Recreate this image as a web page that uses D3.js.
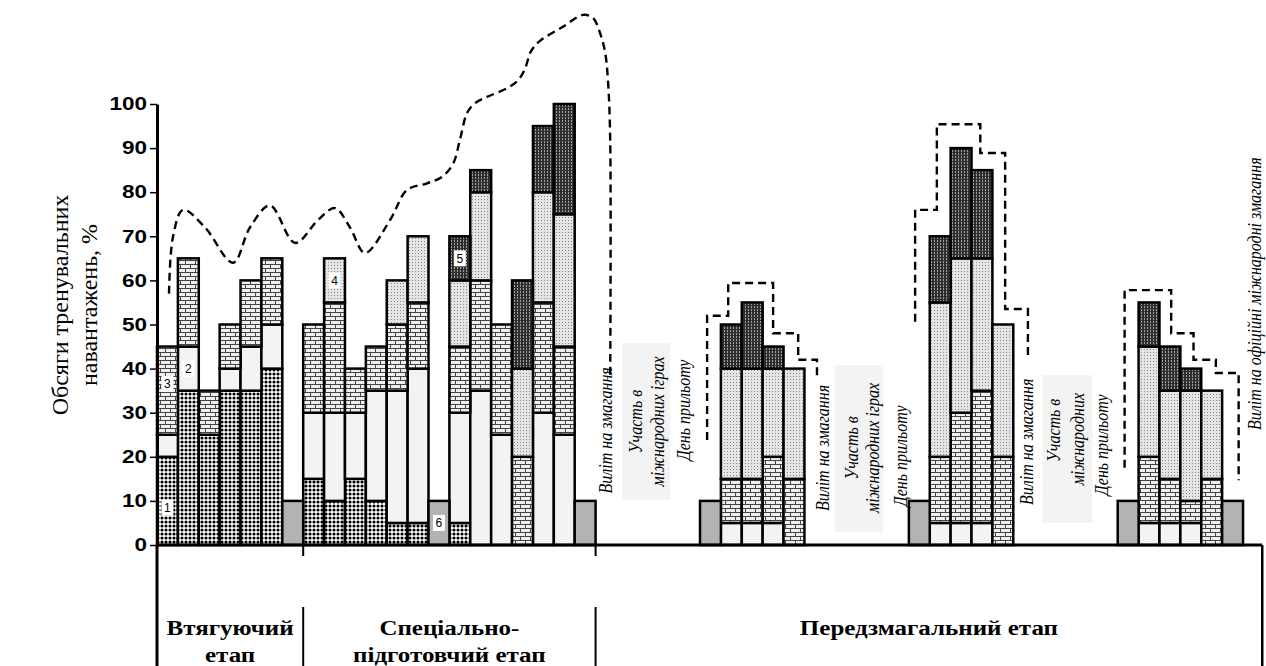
<!DOCTYPE html>
<html>
<head>
<meta charset="utf-8">
<script src="https://cdn.jsdelivr.net/npm/d3@7"></script>
<style>
body { margin: 0; background: #fff; }
svg { display: block; }
.serif { font-family: "Liberation Serif", "Times New Roman", Tinos, "DejaVu Serif", "Noto Serif", serif; }
</style>
</head>
<body>
<script>
// slots that hold a training bar, and the five load components stacked in each
var barSlots = [0,1,2,3,4,5, 7,8,9,10,11,12, 14,15,16,17,18,19, 27,28,29,30, 37,38,39,40, 47,48,49,50];
var part1 = [20,35,25,35,35,40, 15,10,15,10,5,5, 5,0,0,0,0,0, 0,0,0,0, 0,0,0,0, 0,0,0,0];
var part2 = [5,10,0,5,10,10, 15,20,15,25,30,35, 25,35,25,0,30,25, 5,5,5,0, 5,5,5,0, 5,5,5,0];
var part3 = [20,20,10,10,15,15, 20,25,10,10,15,15, 15,25,25,20,25,20, 10,10,15,15, 15,25,30,20, 15,10,5,15];
var part4 = [0,0,0,0,0,0, 0,10,0,0,10,15, 15,20,0,20,25,30, 25,25,20,25, 35,35,30,30, 25,20,25,20];
var part5 = [0,0,0,0,0,0, 0,0,0,0,0,0, 10,5,0,20,15,25, 10,15,5,0, 15,25,20,0, 10,10,5,0];

// rest days (component 6)
var restSlots = [6,13,20,26,36,46,51];
var restValues = [10,10,10,10,10,10,10];

var nSlots = 52;
var yTicks = [0,10,20,30,40,50,60,70,80,90,100];

// dashed trend curve over the first two stages (slot position, value)
var trendX = [0.575,0.77,1.25,2.30,3.64,4.45,5.41,6.61,7.71,8.52,9.24,9.96,11.16,11.97,12.93,13.65,14.18,14.51,14.85,15.23,15.80,16.76,17.29,17.62,17.91,18.34,19.44,20.40,20.88,21.22,21.46,21.60,21.70,21.70];
var trendY = [57,70,76,72,64,72,77,68.5,73.7,76.4,72,66.2,73.7,80.5,82,83.5,86.5,92,98,100.2,101.6,103.6,105.4,108,112,114.3,117.5,120.2,119.5,116,111.6,104.8,91.8,38];

// dashed step outlines over the pre-competition micro-cycles
var stepAX = [26.34,26.34,27.35,27.35,29.5,29.5,30.7,30.7,31.6,31.6];
var stepAY = [23.8,52,52,59.4,59.4,48,48,42,42,38];
var stepBX = [36.3,36.3,37.34,37.34,39.42,39.42,40.61,40.61,41.7,41.7];
var stepBY = [50.6,76,76,95.4,95.4,88.9,88.9,53.5,53.5,42];
var stepCX = [46.33,46.33,48.56,48.56,49.63,49.63,50.7,50.7,51.79,51.79];
var stepCY = [17.5,57.8,57.8,48,48,42,42,39,39,14.7];

// component number tags
var tagText = ["1","2","3","4","5","6"];
var tagSlot = [0,1,0,8,14,13];
var tagValue = [8.5,40,36.5,60,65,5];

// rotated notes
var noteText = ["Виліт на змагання","Участь в","міжнародних іграх","День прильоту",
                "Виліт на змагання","Участь в","міжнародних іграх","День прильоту",
                "Виліт на змагання","Участь в","міжнародних","День прильоту",
                "Виліт на офіційні міжнародні змагання"];
var noteSlot = [21.5,22.94,23.98,25.24, 31.9,33.29,34.29,35.63, 41.67,42.96,44.11,45.26, 52.55];
var noteValue = [26,28,28,30.6, 22,22,22,20.2, 23.4,26,24,22.7, 57];
var boxStart = [22.27,32.47,42.39];
var boxEnd = [24.57,34.77,44.78];
var boxTop = [45.8,40.8,38.5];
var boxBottom = [10.2,2.9,5];

// stages
var stageNames = [["Втягуючий","етап"],["Спеціально-","підготовчий етап"],["Передзмагальний етап"]];
var stageStart = [0,7,21];
var stageEnd = [7,21,52.92];

var width = 1266, height = 666;
var margin = {left: 157, right: 23, top: 104, bottom: 121};

var svg = d3.select("body").append("svg")
  .attr("width", width)
  .attr("height", height);

var defs = svg.append("defs");

// pattern 1: black dots
var p1 = defs.append("pattern").attr("id", "pat1").attr("width", 4).attr("height", 4).attr("patternUnits", "userSpaceOnUse");
p1.append("rect").attr("width", 4).attr("height", 4).attr("fill", "#fff");
p1.append("circle").attr("cx", 2).attr("cy", 2).attr("r", 1.55).attr("fill", "#000");

// pattern 3: bricks
var p3 = defs.append("pattern").attr("id", "pat3").attr("width", 10).attr("height", 8).attr("patternUnits", "userSpaceOnUse");
p3.append("rect").attr("width", 10).attr("height", 8).attr("fill", "#eeeeee");
p3.append("path").attr("d", "M0,0.5H10M0,4.5H10M0.5,0.5V4.5M5.5,4.5V8").attr("stroke", "#444").attr("stroke-width", 1).attr("fill", "none");

// pattern 4: light stipple
var p4 = defs.append("pattern").attr("id", "pat4").attr("width", 3).attr("height", 3).attr("patternUnits", "userSpaceOnUse");
p4.append("rect").attr("width", 3).attr("height", 3).attr("fill", "#e4e4e4");
p4.append("rect").attr("x", 1).attr("y", 1).attr("width", 1).attr("height", 1).attr("fill", "#8a8a8a");

// pattern 5: dark hatched
var p5 = defs.append("pattern").attr("id", "pat5").attr("width", 3).attr("height", 3).attr("patternUnits", "userSpaceOnUse");
p5.append("rect").attr("width", 3).attr("height", 3).attr("fill", "#2e2e2e");
p5.append("rect").attr("x", 1).attr("y", 0).attr("width", 1).attr("height", 2).attr("fill", "#a0a0a0");

var fills = {p1: "url(#pat1)", p2: "#f3f3f3", p3: "url(#pat3)", p4: "url(#pat4)", p5: "url(#pat5)"};

// scales
var x = d3.scaleBand().domain(d3.range(nSlots)).range([margin.left, margin.left + 20.885 * nSlots]).padding(0);
var xs = d3.scaleLinear().domain([0, nSlots]).range(x.range());
var y = d3.scaleLinear().domain([0, 100]).range([545, 104]);

// stacked data
var table = barSlots.map(function(s, i) {
  return {slot: s, p1: part1[i], p2: part2[i], p3: part3[i], p4: part4[i], p5: part5[i]};
});
var stack = d3.stack().keys(["p1","p2","p3","p4","p5"]);
var series = stack(table);

var bars = svg.append("g");
series.forEach(function(ser) {
  bars.append("g").selectAll("rect")
    .data(ser.filter(function(d) { return d[1] > d[0]; }))
    .enter().append("rect")
    .attr("x", function(d) { return x(d.data.slot); })
    .attr("y", function(d) { return y(d[1]); })
    .attr("width", x.bandwidth())
    .attr("height", function(d) { return y(d[0]) - y(d[1]); })
    .attr("fill", fills[ser.key])
    .attr("stroke", "#000")
    .attr("stroke-width", 2.5);
});

// rest bars
bars.append("g").selectAll("rect")
  .data(restSlots)
  .enter().append("rect")
  .attr("x", function(d) { return x(d); })
  .attr("y", function(d, i) { return y(restValues[i]); })
  .attr("width", x.bandwidth())
  .attr("height", function(d, i) { return y(0) - y(restValues[i]); })
  .attr("fill", "#b3b3b3")
  .attr("stroke", "#000")
  .attr("stroke-width", 2.5);

// tags
var tags = svg.append("g");
tagText.forEach(function(t, i) {
  var cx = x(tagSlot[i]) + x.bandwidth() / 2, cy = y(tagValue[i]);
  tags.append("rect").attr("x", cx - 6).attr("y", cy - 8).attr("width", 12).attr("height", 16).attr("fill", "#fff");
  tags.append("text").attr("x", cx).attr("y", cy).attr("dy", "0.35em")
    .attr("text-anchor", "middle").attr("font-family", "Arial, 'Liberation Sans'").attr("font-size", 12)
    .text(t);
});

// note boxes and rotated notes
var notes = svg.append("g");
boxStart.forEach(function(b, i) {
  notes.append("rect")
    .attr("x", xs(b)).attr("y", y(boxTop[i]))
    .attr("width", xs(boxEnd[i]) - xs(b)).attr("height", y(boxBottom[i]) - y(boxTop[i]))
    .attr("fill", "#f3f3f3");
});
noteText.forEach(function(t, i) {
  notes.append("text")
    .attr("class", "serif")
    .attr("transform", "translate(" + xs(noteSlot[i]) + "," + y(noteValue[i]) + ") rotate(-90) scale(1,1.15)")
    .attr("text-anchor", "middle")
    .attr("dy", "0.33em")
    .attr("font-style", "italic")
    .attr("font-size", 16)
    .text(t);
});

// dashed lines
var line = d3.line()
  .x(function(d) { return xs(d[0]); })
  .y(function(d) { return y(d[1]); });
var dashG = svg.append("g").attr("fill", "none").attr("stroke", "#000").attr("stroke-width", 2.4).attr("stroke-dasharray", "8,5");
dashG.append("path")
  .attr("d", line.curve(d3.curveCatmullRom.alpha(0.5))(d3.zip(trendX, trendY)));
var stepLine = d3.line().x(function(d) { return xs(d[0]); }).y(function(d) { return y(d[1]); });
[[stepAX, stepAY], [stepBX, stepBY], [stepCX, stepCY]].forEach(function(s) {
  dashG.append("path").attr("d", stepLine(d3.zip(s[0], s[1])));
});

// y axis
var yAxis = d3.axisLeft(y).tickValues(yTicks).tickSize(7).tickSizeOuter(0);
var yg = svg.append("g").attr("transform", "translate(" + margin.left + ",0)").call(yAxis);
yg.select(".domain").attr("stroke-width", 3);
yg.selectAll(".tick line").attr("stroke-width", 1.5);
yg.selectAll(".tick text")
  .attr("font-family", "Arial, 'Liberation Sans'")
  .attr("font-weight", "bold")
  .attr("font-size", 18)
  .attr("x", -10 / 1.25)
  .attr("transform", "scale(1.25,1)");

// x axis baseline and table
var tableRight = xs(stageEnd[2]);
var base = svg.append("g").attr("stroke", "#000");
base.append("line").attr("x1", margin.left).attr("x2", tableRight).attr("y1", y(0)).attr("y2", y(0)).attr("stroke-width", 3);
base.append("line").attr("x1", margin.left).attr("x2", margin.left).attr("y1", y(0)).attr("y2", height).attr("stroke-width", 3);
base.append("line").attr("x1", tableRight).attr("x2", tableRight).attr("y1", y(0)).attr("y2", height).attr("stroke-width", 2.5);
[stageStart[1], stageStart[2]].forEach(function(s) {
  base.append("line").attr("x1", xs(s)).attr("x2", xs(s)).attr("y1", y(0)).attr("y2", y(0) + 11).attr("stroke-width", 2);
  base.append("line").attr("x1", xs(s)).attr("x2", xs(s)).attr("y1", 607).attr("y2", height).attr("stroke-width", 2);
});

// stage labels
stageNames.forEach(function(lines, i) {
  var cx = (xs(stageStart[i]) + xs(stageEnd[i])) / 2;
  lines.forEach(function(l, j) {
    svg.append("text")
      .attr("class", "serif")
      .attr("transform", "translate(" + cx + "," + (635 + j * 27) + ") scale(1.25,1)")
      .attr("text-anchor", "middle")
      .attr("font-weight", "bold")
      .attr("font-size", 20)
      .text(l);
  });
});

// y axis title
var yTitle = ["Обсяги тренувальних", "навантажень, %"];
yTitle.forEach(function(t, i) {
  svg.append("text")
    .attr("class", "serif")
    .attr("transform", "translate(" + (60 + i * 29) + ",305) rotate(-90)")
    .attr("text-anchor", "middle")
    .attr("dy", "0.35em")
    .attr("font-size", 24)
    .text(t);
});
</script>
</body>
</html>
